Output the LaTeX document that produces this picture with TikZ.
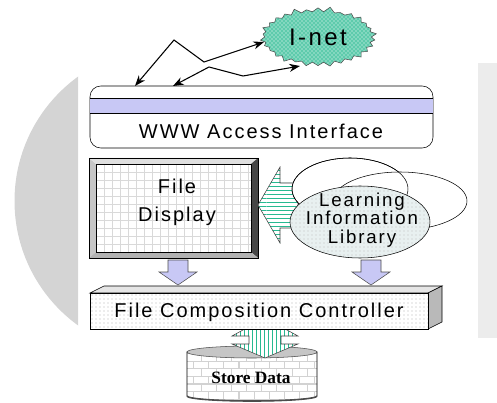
\documentclass[tikz,border=0pt]{standalone}
\usepackage{fontspec}
\setmainfont{Liberation Sans}
\newfontfamily\gul[LetterSpace=10]{Liberation Sans}
\newfontfamily\tms{Liberation Serif}
\usetikzlibrary {arrows.meta}
\usetikzlibrary {patterns}
\usetikzlibrary {shapes.symbols}

\definecolor{lav}{RGB}{200,200,245}
\definecolor{tealg}{RGB}{40,185,145}
\definecolor{bggray}{RGB}{212,212,212}
\definecolor{bglight}{RGB}{236,236,236}
\definecolor{libfill}{RGB}{232,240,240}

\tikzset{
  txt/.style={font=\gul\fontsize{15}{17}\selectfont, align=center, inner sep=0pt},
  lavarrow/.style={fill=lav, draw=gray!60!black},
  stripeh/.style={preaction={fill=white}, pattern=horizontal lines, pattern color=tealg, draw=gray!50!black},
  stripev/.style={preaction={fill=white}, pattern=vertical lines, pattern color=tealg, draw=gray!50!black},
  dotbox/.style={preaction={fill=white}, pattern=dots, pattern color=gray!60, draw=black},
  inet/.style={starburst, starburst points=30, starburst point height=4pt, draw=black!70,
    preaction={fill=tealg!75!white}, pattern=crosshatch dots, pattern color=white,
    minimum width=88pt, minimum height=46pt, font=\gul\fontsize{18}{18}\selectfont}
}

\begin{document}
\begin{tikzpicture}[x=0.75pt,y=-0.75pt]
  \useasboundingbox (0,0) rectangle (497,403);
  %背景
  \begin{scope}
    \clip (0,0) rectangle (78,403);
    \fill[bggray] (168,201) circle (153.5);
  \end{scope}
  \fill[bglight] (478,63) rectangle (497,338);

  %I-net
  \node[inet] (inet) at (318,37) {I-net};

  %WWW
  \draw[fill=white, rounded corners=8pt] (90,86) rectangle (433,148);
  \fill[lav] (90,98) rectangle (433,113);
  \draw (90,98) -- (433,98) (90,113) -- (433,113);
  \node[txt] (www) at (261,131) {WWW Access Interface};

  %矢印
  \coordinate (a1) at (135,86);
  \coordinate (b1) at (174,40);
  \coordinate (c1) at (204,62);
  \coordinate (in1) at (264,42);
  \coordinate (a2) at (173,86);
  \coordinate (b2) at (209,67);
  \coordinate (c2) at (243,76);
  \coordinate (in2) at (300,66);
  \draw[{Stealth[length=8pt]}-{Stealth[length=8pt]}, thick] (a1) -- (b1) -- (c1) -- (in1);
  \draw[{Stealth[length=8pt]}-{Stealth[length=8pt]}, thick] (a2) -- (b2) -- (c2) -- (in2);

  %File Display
  \fill[gray!45] (89,158) -- (96,164) -- (96,252) -- (89,258) -- cycle;
  \fill[gray!25] (89,158) -- (258,158) -- (251,164) -- (96,164) -- cycle;
  \fill[gray!55!black] (258,158) -- (258,258) -- (251,252) -- (251,164) -- cycle;
  \fill[gray!60] (89,258) -- (258,258) -- (251,252) -- (96,252) -- cycle;
  \fill[white] (96,164) rectangle (251,252);
  \foreach \x in {104,112,...,250} \draw[gray!30] (\x,164) -- (\x,252);
  \foreach \y in {172,180,...,251} \draw[gray!30] (96,\y) -- (251,\y);
  \draw (89,158) rectangle (258,258);
  \draw (96,164) rectangle (251,252);
  \node[txt, font=\gul\fontsize{15}{21}\selectfont] (disp) at (177,202) {File\\Display};

  %左向き矢印
  \draw[stripeh] (298,183) -- (280,183) -- (280,167) -- (258,205) -- (280,243) -- (280,228) -- (298,228) -- cycle;

  %楕円
  \filldraw[fill=white] (350,189) ellipse [x radius=58, y radius=31];
  \filldraw[fill=white] (400,201) ellipse [x radius=67, y radius=29];
  \draw (350,189) ellipse [x radius=58, y radius=31];
  \draw[preaction={fill=libfill}, pattern=dots, pattern color=gray!50] (360,222) ellipse [x radius=70, y radius=36];
  \node[txt, font=\gul\fontsize{14}{14}\selectfont] (lib) at (362,220) {Learning\\Information\\Library};

  %下向き矢印
  \foreach \x in {178,371}
    \draw[lavarrow] (\x-10,260) -- (\x+10,260) -- (\x+10,272) -- (\x+19,272) -- (\x,285) -- (\x-19,272) -- (\x-10,272) -- cycle;

  %Store Data
  \filldraw[preaction={fill=white}, pattern=bricks, pattern color=gray!35, draw=black]
    (187,352) -- (187,396) arc[start angle=180, end angle=0, x radius=65, y radius=5] -- (317,352) -- cycle;
  \draw[line width=1.2pt, gray!60!black] (187,396) arc[start angle=180, end angle=0, x radius=65, y radius=5];
  \filldraw[fill=gray!45, draw=gray!60!black] (252,352) ellipse [x radius=65, y radius=6];
  \node[font=\tms\bfseries\fontsize{13}{13}\selectfont] (store) at (251,378) {Store Data};

  %両向き矢印
  \draw[stripev] (265,318) -- (298,336) -- (281,336) -- (281,344) -- (298,344) -- (265,358)
    -- (232,344) -- (249,344) -- (249,336) -- (232,336) -- cycle;

  %File Composition Controller
  \filldraw[fill=gray!20] (90,293) -- (104,286) -- (442,286) -- (428,293) -- cycle;
  \filldraw[fill=gray!55] (428,293) -- (442,286) -- (442,322) -- (428,329) -- cycle;
  \draw[dotbox] (90,293) rectangle (428,329);
  \node[txt] (ctrl) at (259,312) {File Composition Controller};
\end{tikzpicture}
\end{document}
